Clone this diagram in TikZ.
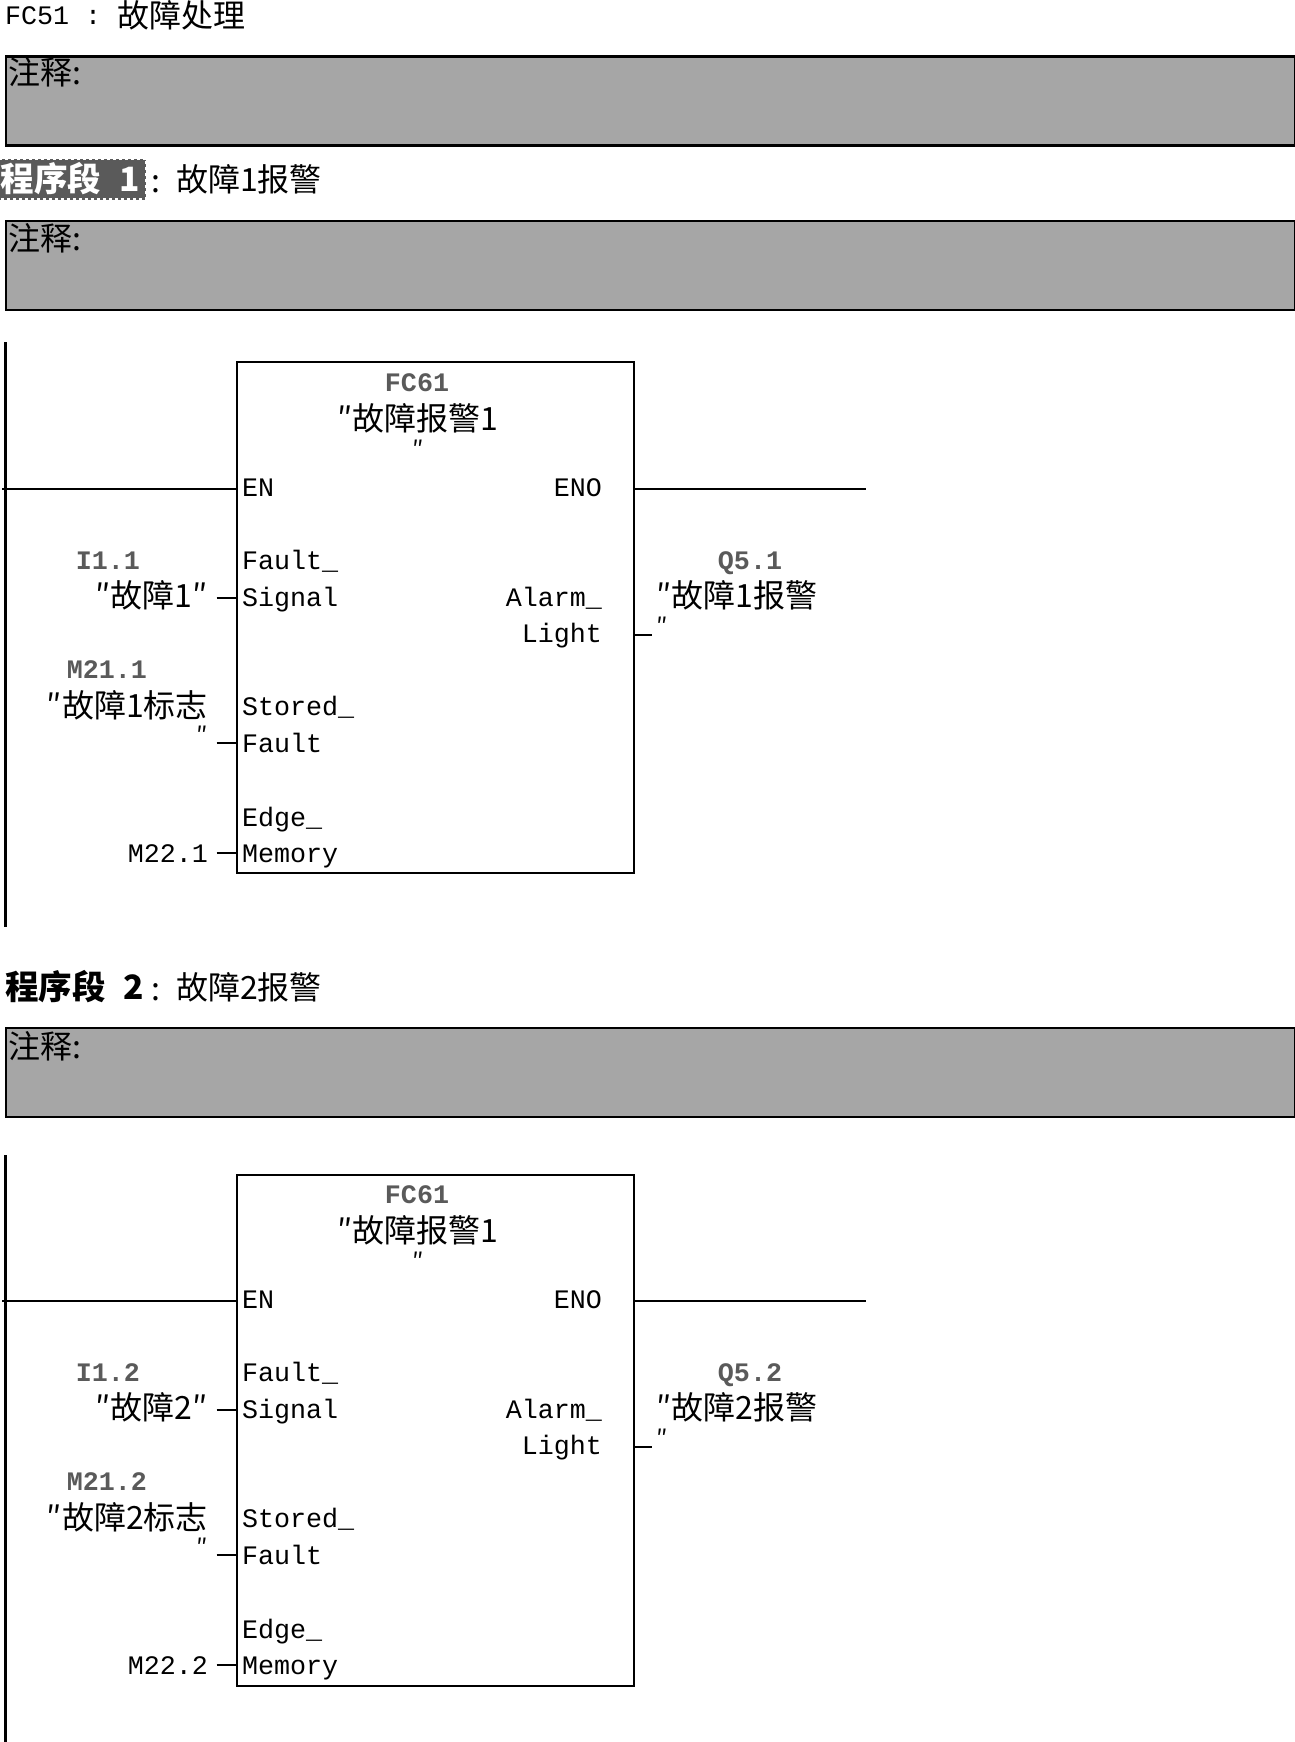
\documentclass[tikz,border=0pt]{standalone}
\usepackage{fontspec}
\setmainfont{Liberation Mono}
\newfontfamily\cjk{Noto Sans CJK SC}
\usetikzlibrary{positioning}
\definecolor{notegray}{HTML}{A6A6A6}
\definecolor{addrgray}{HTML}{5A5A5A}
\newcommand{\latsize}{\fontsize{26.7}{32}\selectfont}
\newcommand{\cjksize}{\fontsize{32}{38}\selectfont\cjk}
\newcommand{\marksize}{\fontsize{33.5}{40}\selectfont\cjk\bfseries}
\begin{document}
\begin{tikzpicture}[
            x=1pt, y=-1pt,
            line width=2.2pt,
            lat/.style={inner sep=0pt, text height=20pt, text depth=3pt, font=\latsize},
            zh/.style={inner sep=0pt, text height=26pt, text depth=2pt, font=\cjksize},
            addr/.style={lat, font=\latsize\bfseries, text=addrgray},
            quo/.style={zh, font=\fontsize{24}{28}\selectfont\cjk},
            notebox/.style={draw, fill=notegray, anchor=north west, inner sep=0pt, minimum width=1289pt, minimum height=89pt},
            fcbox/.style={draw, anchor=north west, inner sep=0pt, minimum width=397.5pt, minimum height=511pt},
            netmark/.style={zh, text=white, font=\marksize, fill=addrgray, draw=white, dashed, inner xsep=6pt, inner ysep=6.5pt}
        ]
        \useasboundingbox (0,0) rectangle (1295,1742);

        \node[lat, anchor=west] (title) at (4,16) {FC51 :};
        \node[zh, right=14pt of title] (titlezh) {故障处理};

        \node[notebox] (note0) at (5,55.5) {};
        \node[zh, anchor=west] (note0txt) at (7,73) {注释:};

        \node[netmark, anchor=east] (mark1) at (147,179) {程序段\hspace{18pt}1};
        \node[zh, anchor=west] (colon1) at (150,180) {:};
        \node[zh, anchor=west] (head1) at (175,179) {故障1报警};
        \node[notebox] (note1) at (5,220) {};
        \node[zh, anchor=west] (note1txt) at (7,238) {注释:};

        \node[zh, font=\marksize, anchor=west] (mark2) at (4,987) {程序段\hspace{18pt}2};
        \node[zh, anchor=west] (colon2) at (150,988) {:};
        \node[zh, anchor=west] (head2) at (175,987) {故障2报警};
        \node[notebox] (note2) at (5,1027) {};
        \node[zh, anchor=west] (note2txt) at (7,1046) {注释:};

        % network 1
        \coordinate (railtopa) at (5.5,342);
        \coordinate (railbota) at (5.5,927);
        \draw (railtopa) -- (railbota);
        \node[fcbox] (fca) at (235.5,361) {};
        \node[addr] (fcnamea) at (417,383) {FC61};
        \node[zh] (fczha) at (418,418) {″故障报警1};
        \node[quo] (fcquoa) at (418,446) {″};

        \node[lat, anchor=west] (ena) at (241,488) {EN};
        \node[lat, anchor=east] (enoa) at (603,488) {ENO};
        \coordinate (leftena) at (2,489);
        \coordinate (rightena) at (866,489);
        \draw (leftena) -- (leftena -| fca.west);
        \draw (rightena -| fca.east) -- (rightena);

        \node[lat, anchor=west] (sigaa) at (241,561) {Fault\_};
        \node[lat, anchor=west] (sigba) at (241,598) {Signal};
        \node[lat, anchor=west] (stoaa) at (241,707) {Stored\_};
        \node[lat, anchor=west] (stoba) at (241,744) {Fault};
        \node[lat, anchor=west] (edgaa) at (241,818) {Edge\_};
        \node[lat, anchor=west] (edgba) at (241,854) {Memory};
        \node[lat, anchor=east] (alaa) at (603,598) {Alarm\_};
        \node[lat, anchor=east] (alba) at (603,634) {Light};

        \node[addr, anchor=east] (inaddra) at (141,561) {I1.1};
        \node[zh, anchor=east] (inzha) at (209,595) {″故障1″};
        \node[addr, anchor=east] (stoaddra) at (148,670) {M21.1};
        \node[zh, anchor=east] (stozha) at (209,705) {″故障1标志};
        \node[quo, anchor=east] (stoquoa) at (209,732) {″};
        \node[lat, anchor=east] (edgaddra) at (209,854) {M22.1};
        \node[addr] (outaddra) at (750,561) {Q5.1};
        \node[zh, anchor=west] (outzha) at (655,595) {″故障1报警};
        \node[quo, anchor=west] (outquoa) at (655,623) {″};

        \coordinate (pinsiga) at (216.5,598);
        \coordinate (pinstoa) at (216.5,743);
        \coordinate (pinedga) at (216.5,853);
        \coordinate (pinala) at (652,635);
        \draw (pinsiga) -- (pinsiga -| fca.west);
        \draw (pinstoa) -- (pinstoa -| fca.west);
        \draw (pinedga) -- (pinedga -| fca.west);
        \draw (pinala -| fca.east) -- (pinala);

        % network 2
        \coordinate (railtopb) at (5.5,1155);
        \coordinate (railbotb) at (5.5,1742);
        \draw (railtopb) -- (railbotb);
        \node[fcbox] (fcb) at (235.5,1174) {};
        \node[addr] (fcnameb) at (417,1195) {FC61};
        \node[zh] (fczhb) at (418,1230) {″故障报警1};
        \node[quo] (fcquob) at (418,1258) {″};

        \node[lat, anchor=west] (enb) at (241,1300) {EN};
        \node[lat, anchor=east] (enob) at (603,1300) {ENO};
        \coordinate (leftenb) at (2,1301);
        \coordinate (rightenb) at (866,1301);
        \draw (leftenb) -- (leftenb -| fcb.west);
        \draw (rightenb -| fcb.east) -- (rightenb);

        \node[lat, anchor=west] (sigab) at (241,1373) {Fault\_};
        \node[lat, anchor=west] (sigbb) at (241,1410) {Signal};
        \node[lat, anchor=west] (stoab) at (241,1519) {Stored\_};
        \node[lat, anchor=west] (stobb) at (241,1556) {Fault};
        \node[lat, anchor=west] (edgab) at (241,1630) {Edge\_};
        \node[lat, anchor=west] (edgbb) at (241,1666) {Memory};
        \node[lat, anchor=east] (alab) at (603,1410) {Alarm\_};
        \node[lat, anchor=east] (albb) at (603,1446) {Light};

        \node[addr, anchor=east] (inaddrb) at (141,1373) {I1.2};
        \node[zh, anchor=east] (inzhb) at (209,1407) {″故障2″};
        \node[addr, anchor=east] (stoaddrb) at (148,1482) {M21.2};
        \node[zh, anchor=east] (stozhb) at (209,1517) {″故障2标志};
        \node[quo, anchor=east] (stoquob) at (209,1544) {″};
        \node[lat, anchor=east] (edgaddrb) at (209,1666) {M22.2};
        \node[addr] (outaddrb) at (750,1373) {Q5.2};
        \node[zh, anchor=west] (outzhb) at (655,1407) {″故障2报警};
        \node[quo, anchor=west] (outquob) at (655,1435) {″};

        \coordinate (pinsigb) at (216.5,1410);
        \coordinate (pinstob) at (216.5,1555);
        \coordinate (pinedgb) at (216.5,1665);
        \coordinate (pinalb) at (652,1447);
        \draw (pinsigb) -- (pinsigb -| fcb.west);
        \draw (pinstob) -- (pinstob -| fcb.west);
        \draw (pinedgb) -- (pinedgb -| fcb.west);
        \draw (pinalb -| fcb.east) -- (pinalb);
    \end{tikzpicture}
\end{document}
